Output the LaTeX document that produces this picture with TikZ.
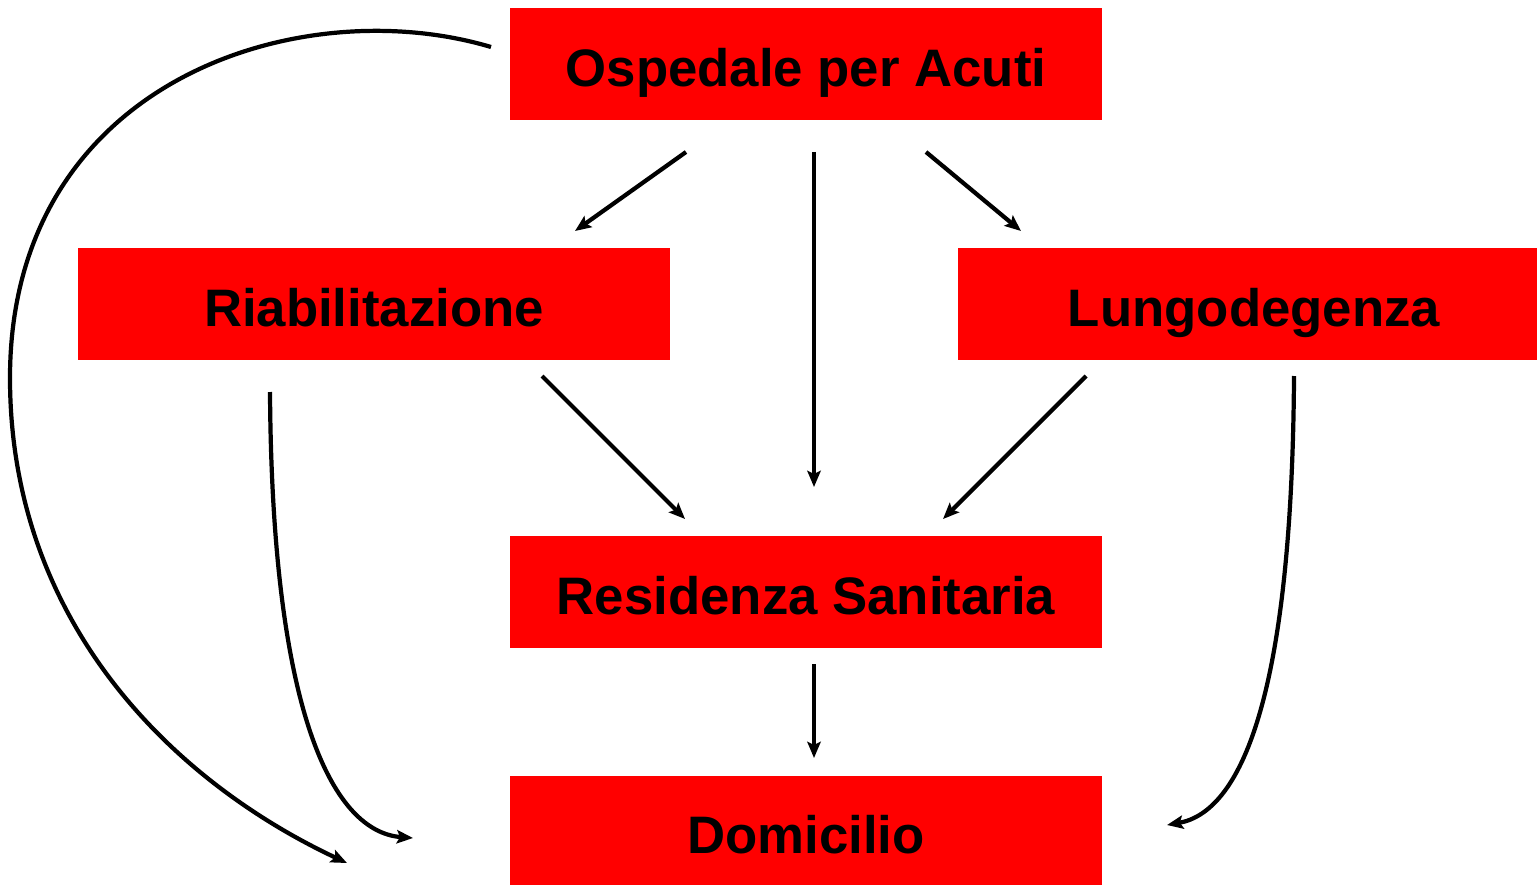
\documentclass[tikz,border=0pt]{standalone}
\usepackage{fontspec}
\setmainfont{Liberation Sans}
\usetikzlibrary{arrows.meta}
\begin{document}
\begin{tikzpicture}[x=0.01cm,y=-0.01cm,
  box/.style={fill=red,draw=none,minimum width=5.92cm,inner sep=0pt,text height=0.78cm,text depth=0.34cm,font=\fontsize{15pt}{18pt}\selectfont\bfseries},
  conn/.style={line width=1.2pt,-{Stealth[length=4.6pt,width=3.8pt,inset=0.9pt]}}]
\useasboundingbox (0,0) rectangle (1537,885);
\node[box] (osp) at (806,64) {Ospedale per Acuti};
\node[box] (ria) at (374,304) {Riabilitazione};
\node[box,minimum width=5.79cm] (lun) at (1247.5,304) {\hspace*{0.13cm}Lungodegenza};
\node[box] (res) at (806,592) {Residenza Sanitaria};
\node[box,text height=0.77cm,text depth=0.32cm] (dom) at (806,830.5) {Domicilio};
% free ends
\coordinate (a1s) at (686,152); \coordinate (a1e) at (575,231);
\coordinate (a2s) at (814,152); \coordinate (a2e) at (814,487);
\coordinate (a3s) at (926,152); \coordinate (a3e) at (1021,231);
\coordinate (a4s) at (542,376); \coordinate (a4e) at (685,519);
\coordinate (a5s) at (1086,376); \coordinate (a5e) at (943,519);
\coordinate (a6s) at (814,664); \coordinate (a6e) at (814,758);
\coordinate (c1s) at (270,392); \coordinate (c1e) at (413,838);
\coordinate (c2s) at (1294,376); \coordinate (c2e) at (1167,825);
\coordinate (c3s) at (491,47); \coordinate (c3m) at (10,378); \coordinate (c3e) at (347,863);
\draw[conn] (a1s) -- (a1e);
\draw[conn] (a2s) -- (a2e);
\draw[conn] (a3s) -- (a3e);
\draw[conn] (a4s) -- (a4e);
\draw[conn] (a5s) -- (a5e);
\draw[conn] (a6s) -- (a6e);
\draw[conn] (c1s) .. controls (272,720) and (335,832) .. (c1e);
\draw[conn] (c2s) .. controls (1292,700) and (1240,812) .. (c2e);
\draw[conn] (c3s) .. controls (300,-10) and (10,80) .. (c3m) .. controls (10,620) and (170,780) .. (c3e);
\end{tikzpicture}
\end{document}
